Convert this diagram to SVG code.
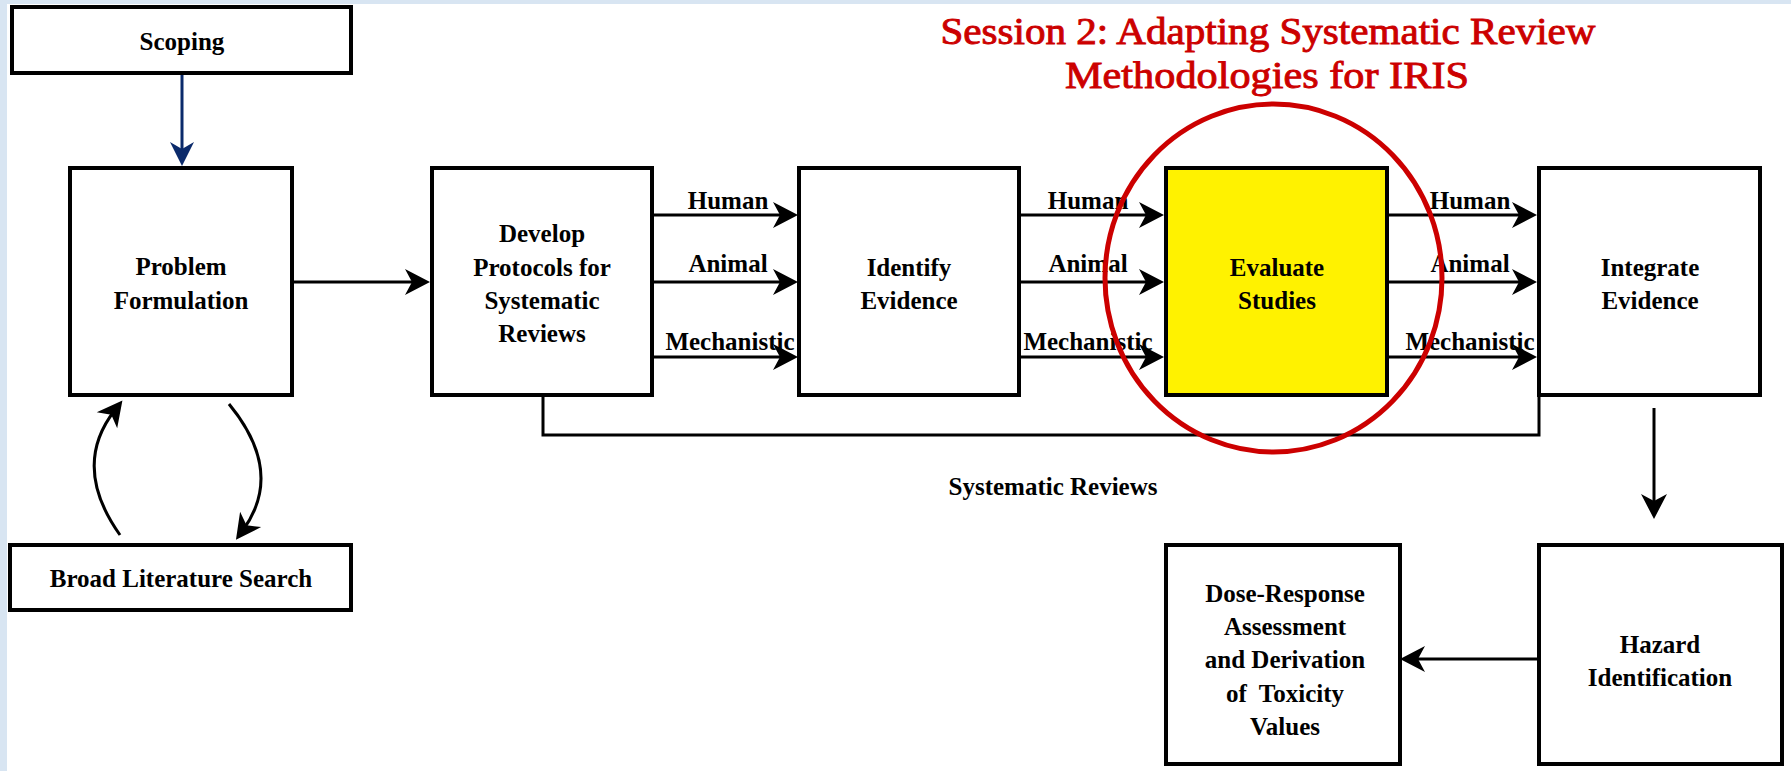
<svg xmlns="http://www.w3.org/2000/svg" width="1791" height="771" viewBox="0 0 1791 771">
<style>
.box{fill:#fff;stroke:#000;stroke-width:4}
.t{font-family:"Liberation Serif","Times New Roman",serif;font-weight:bold;font-size:25px;fill:#000;text-anchor:middle}
.c{fill:none;stroke:#000;stroke-width:3}
.title{font-family:"Liberation Serif","Times New Roman",serif;font-weight:normal;font-size:38px;fill:#CC0000;stroke:#CC0000;stroke-width:0.9;text-anchor:middle}
</style>
<defs>
<marker id="ah" markerUnits="userSpaceOnUse" orient="auto" refX="0" refY="0" markerWidth="40" markerHeight="40" overflow="visible">
<path d="M12,0 L-13,-13 L-6,0 L-13,13 Z" fill="#000"/>
</marker>
<marker id="ahb" markerUnits="userSpaceOnUse" orient="auto" refX="0" refY="0" markerWidth="40" markerHeight="40" overflow="visible">
<path d="M12,0 L-12,-12 L-5,0 L-12,12 Z" fill="#0B2A6B"/>
</marker>
</defs>
<rect x="0" y="0" width="1791" height="771" fill="#D8E5F2"/>
<rect x="7" y="4" width="1784" height="767" fill="#fff"/>

<g id="connectors">
<line x1="182" y1="73" x2="182" y2="154" stroke="#0B2A6B" stroke-width="3" marker-end="url(#ahb)"/>
<line class="c" x1="292" y1="282" x2="418" y2="282" marker-end="url(#ah)"/>
<line class="c" x1="652" y1="215" x2="786" y2="215" marker-end="url(#ah)"/>
<line class="c" x1="652" y1="282" x2="786" y2="282" marker-end="url(#ah)"/>
<line class="c" x1="652" y1="357" x2="786" y2="357" marker-end="url(#ah)"/>
<line class="c" x1="1019" y1="215" x2="1152" y2="215" marker-end="url(#ah)"/>
<line class="c" x1="1019" y1="282" x2="1152" y2="282" marker-end="url(#ah)"/>
<line class="c" x1="1019" y1="357" x2="1152" y2="357" marker-end="url(#ah)"/>
<line class="c" x1="1387" y1="215" x2="1525" y2="215" marker-end="url(#ah)"/>
<line class="c" x1="1387" y1="282" x2="1525" y2="282" marker-end="url(#ah)"/>
<line class="c" x1="1387" y1="357" x2="1525" y2="357" marker-end="url(#ah)"/>
<polyline class="c" points="543,395 543,435 1539,435 1539,395"/>
<line class="c" x1="1654" y1="408" x2="1654" y2="507" marker-end="url(#ah)"/>
<line class="c" x1="1539" y1="659" x2="1412" y2="659" marker-end="url(#ah)"/>
<path class="c" d="M120,535 Q71,466 115,410" marker-end="url(#ah)"/>
<path class="c" d="M229,404 Q285,472 243,530" marker-end="url(#ah)"/>
<text class="t" x="728" y="209">Human</text>
<text class="t" x="728" y="272">Animal</text>
<text class="t" x="730" y="350">Mechanistic</text>
<text class="t" x="1088" y="209">Human</text>
<text class="t" x="1088" y="272">Animal</text>
<text class="t" x="1088" y="350">Mechanistic</text>
<text class="t" x="1470" y="209">Human</text>
<text class="t" x="1470" y="272">Animal</text>
<text class="t" x="1470" y="350">Mechanistic</text>
<text class="t" x="1053" y="495">Systematic Reviews</text>
</g>

<g id="scoping">
<rect class="box" x="12" y="7" width="339" height="66"/>
<text class="t" x="182" y="50">Scoping</text>
</g>
<g id="problem-formulation">
<rect class="box" x="70" y="168" width="222" height="227"/>
<text class="t" x="181" y="275">Problem</text>
<text class="t" x="181" y="309">Formulation</text>
</g>
<g id="broad-literature-search">
<rect class="box" x="10" y="545" width="341" height="65"/>
<text class="t" x="181" y="587">Broad Literature Search</text>
</g>
<g id="develop-protocols">
<rect class="box" x="432" y="168" width="220" height="227"/>
<text class="t" x="542" y="242">Develop</text>
<text class="t" x="542" y="276">Protocols for</text>
<text class="t" x="542" y="309">Systematic</text>
<text class="t" x="542" y="342">Reviews</text>
</g>
<g id="identify-evidence">
<rect class="box" x="799" y="168" width="220" height="227"/>
<text class="t" x="909" y="276">Identify</text>
<text class="t" x="909" y="309">Evidence</text>
</g>
<g id="evaluate-studies">
<rect class="box" x="1166" y="168" width="221" height="227" style="fill:#FFF200"/>
<text class="t" x="1277" y="276">Evaluate</text>
<text class="t" x="1277" y="309">Studies</text>
</g>
<g id="integrate-evidence">
<rect class="box" x="1539" y="168" width="221" height="227"/>
<text class="t" x="1650" y="276">Integrate</text>
<text class="t" x="1650" y="309">Evidence</text>
</g>
<g id="hazard-identification">
<rect class="box" x="1539" y="545" width="243" height="219"/>
<text class="t" x="1660" y="653">Hazard</text>
<text class="t" x="1660" y="686">Identification</text>
</g>
<g id="dose-response">
<rect class="box" x="1166" y="545" width="234" height="219"/>
<text class="t" x="1285" y="602">Dose-Response</text>
<text class="t" x="1285" y="635">Assessment</text>
<text class="t" x="1285" y="668">and Derivation</text>
<text class="t" x="1285" y="702" xml:space="preserve">of  Toxicity</text>
<text class="t" x="1285" y="735">Values</text>
</g>

<g id="session-highlight">
<ellipse cx="1273.5" cy="278" rx="168.5" ry="174" fill="none" stroke="#CC0000" stroke-width="5"/>
<text class="title" x="1268" y="44" textLength="655" lengthAdjust="spacingAndGlyphs">Session 2: Adapting Systematic Review</text>
<text class="title" x="1267" y="88" textLength="404" lengthAdjust="spacingAndGlyphs">Methodologies for IRIS</text>
</g>
</svg>
